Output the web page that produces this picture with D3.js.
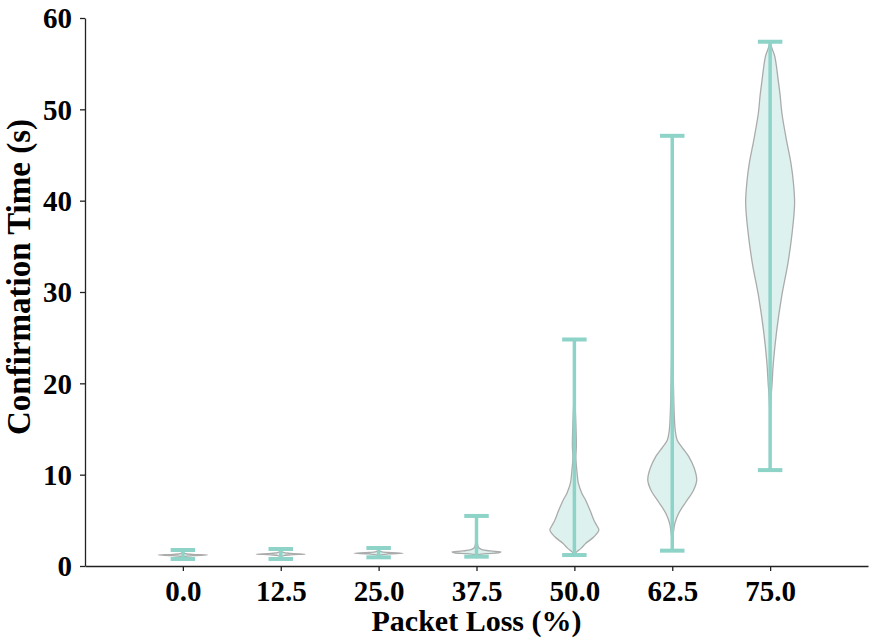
<!DOCTYPE html>
<html><head><meta charset="utf-8">
<script src="https://cdn.jsdelivr.net/npm/d3@7"></script>
<style>body{margin:0;background:#fff}text{font-family:"Liberation Serif","Times New Roman",serif;font-weight:bold}</style>
</head><body>
<script>
const categories = ["0.0","12.5","25.0","37.5","50.0","62.5","75.0"];
const mins = [0.77, 0.77, 0.95, 1.02, 1.2, 1.68, 10.5];
const maxs = [1.75, 1.86, 1.97, 5.48, 24.8, 47.1, 57.4];
// density outlines: [value, relative half-width]
const prof00 = [[0.77,0],[0.95,0.02],[1.05,0.1],[1.13,0.4],[1.2,1],[1.27,0.4],[1.35,0.1],[1.5,0.02],[1.75,0]];
const prof125 = [[0.77,0],[0.95,0.02],[1.12,0.1],[1.22,0.4],[1.3,1],[1.38,0.4],[1.48,0.1],[1.62,0.02],[1.86,0]];
const prof250 = [[0.95,0],[1.1,0.02],[1.22,0.1],[1.32,0.4],[1.4,1],[1.48,0.4],[1.58,0.1],[1.72,0.02],[1.97,0]];
const prof375 = [[1.02,0],[1.2,0.04],[1.35,0.4],[1.45,0.9],[1.55,1],[1.65,0.55],[1.8,0.22],[2.0,0.09],[2.3,0.05],[2.8,0.02],[3.5,0.01],[5.48,0]];
const prof500 = [[1.2,0],[1.57,0.1],[1.93,0.27],[2.48,0.47],[3.2,0.8],[3.94,1],[4.4,0.92],[5.0,0.8],[6.1,0.64],[7.2,0.46],[8.0,0.3],[9.1,0.16],[10.2,0.11],[11.9,0.06],[13.0,0.08],[13.8,0.08],[15.6,0.06],[17,0.04],[18.5,0.02],[21,0.006],[24.8,0]];
const prof625 = [[1.68,0],[2.5,0.01],[3.3,0.03],[3.9,0.06],[4.7,0.11],[5.8,0.27],[6.9,0.53],[8.3,0.87],[9.4,1],[10.7,0.9],[12.0,0.67],[13.0,0.4],[13.8,0.2],[14.9,0.12],[16.7,0.08],[18.5,0.06],[21,0.04],[24,0.02],[28,0.01],[35,0.003],[47.1,0]];
const prof750 = [[10.5,0],[14,0.005],[16.5,0.012],[18.5,0.04],[20,0.08],[22.2,0.13],[25.8,0.27],[29.5,0.47],[33.2,0.73],[36.5,0.9],[39.7,1],[42,0.95],[44.1,0.85],[46.6,0.67],[49.6,0.48],[51.5,0.41],[53.2,0.33],[55.8,0.19],[56.8,0.06],[57.4,0]];
const profiles = [prof00, prof125, prof250, prof375, prof500, prof625, prof750];
const yTicks = [0,10,20,30,40,50,60];

const W = 869, H = 641;
const m = {left:85, right:1, top:18, bottom:75};
const svg = d3.select("body").append("svg").attr("width",W).attr("height",H);
const x = d3.scalePoint().domain(categories).range([m.left, W-m.right]).padding(1);
const y = d3.scaleLinear().domain([0,60]).range([H-m.bottom, m.top]);
const step = x.step();
const hw = 0.25*step;

const lineCol = "#8dd3c7";
const g = svg.append("g");
categories.forEach((c,i)=>{
  const cx = x(c);
  const area = d3.area()
    .y(d=>y(d[0]))
    .x0(d=>cx - d[1]*hw)
    .x1(d=>cx + d[1]*hw)
    .curve(d3.curveCatmullRom.alpha(0.5));
  g.append("path").attr("d", area(profiles[i]))
    .attr("fill","#ddf2ee").attr("stroke","#ababab").attr("stroke-width",1.3);
});
categories.forEach((c,i)=>{
  const cx = x(c);
  g.append("line").attr("x1",cx).attr("x2",cx).attr("y1",y(mins[i])).attr("y2",y(maxs[i]))
    .attr("stroke",lineCol).attr("stroke-width",3.5);
  [mins[i],maxs[i]].forEach(v=>{
    g.append("line").attr("x1",cx-0.125*step).attr("x2",cx+0.125*step).attr("y1",y(v)).attr("y2",y(v))
      .attr("stroke",lineCol).attr("stroke-width",4);
  });
});

const xa = svg.append("g").attr("transform",`translate(0,${H-m.bottom})`)
  .call(d3.axisBottom(x).tickSize(5).tickSizeOuter(0).tickPadding(9));
const ya = svg.append("g").attr("transform",`translate(${m.left},0)`)
  .call(d3.axisLeft(y).tickValues(yTicks).tickSize(5).tickSizeOuter(0).tickPadding(8));
[xa,ya].forEach(a=>{
  a.selectAll("path,line").attr("stroke","#222").attr("stroke-width",1.3);
  a.selectAll("text").attr("font-size",29).attr("fill","#000")
    .attr("font-family","'Liberation Serif','Times New Roman',serif").attr("font-weight","bold");
});
ya.selectAll("text").attr("dy","0.34em");
svg.append("text").attr("x",(m.left+W-m.right)/2).attr("y",631).attr("text-anchor","middle")
  .attr("font-size",30).text("Packet Loss (%)");
svg.append("text").attr("transform",`translate(30,277) rotate(-90)`).attr("text-anchor","middle")
  .attr("font-size",33).text("Confirmation Time (s)");
</script>
</body></html>
